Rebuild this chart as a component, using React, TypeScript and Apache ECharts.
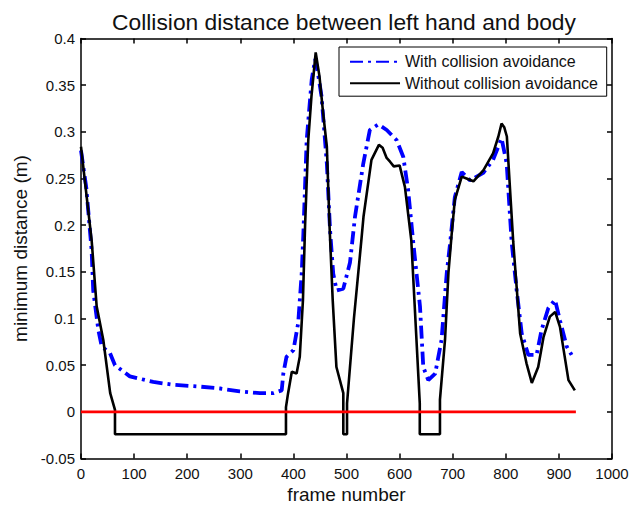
import React, { useEffect, useRef } from "react";
import * as echarts from "echarts";

const titleText = "Collision distance between left hand and body";
const xName = "frame number";
const yName = "minimum distance (m)";
const seriesNames = ["With collision avoidance", "Without collision avoidance"];

const frameWith = [0, 10, 20, 23, 32.6, 39, 54.6, 64, 92, 136, 174, 224, 262, 299, 337, 362, 378, 381, 387, 400, 409, 415.6, 418.7, 425, 434.5, 441, 447, 453, 463, 469, 475, 481.5, 494, 506.6, 516, 531.6, 544, 560, 575.7, 594.5, 607, 616, 626, 638.4, 644.6, 654, 667, 679, 688.7, 695, 704, 717, 732.6, 757.6, 776, 792, 801.7, 811, 820.5, 830, 842.4, 858, 867.5, 880, 892.7, 902, 914.7, 924];
const distWith = [0.28, 0.24, 0.173, 0.13, 0.088, 0.07, 0.063, 0.05, 0.038, 0.032, 0.029, 0.027, 0.025, 0.022, 0.02, 0.02, 0.023, 0.041, 0.059, 0.066, 0.095, 0.148, 0.19, 0.291, 0.356, 0.378, 0.36, 0.338, 0.266, 0.195, 0.148, 0.13, 0.132, 0.16, 0.209, 0.266, 0.302, 0.308, 0.302, 0.291, 0.273, 0.238, 0.18, 0.113, 0.048, 0.034, 0.041, 0.077, 0.148, 0.18, 0.23, 0.257, 0.248, 0.256, 0.27, 0.293, 0.266, 0.182, 0.13, 0.084, 0.061, 0.061, 0.088, 0.111, 0.12, 0.098, 0.07, 0.061];

const frameWithout = [0, 20, 29.5, 42, 55, 64, 64, 386, 386, 390, 397, 406, 412, 418, 422, 428, 434, 442, 449, 456, 463, 468, 474, 481, 494, 494, 501, 501, 514, 528, 532, 547, 561, 568, 575.6, 582, 589, 600, 610, 622, 638, 638, 676, 676, 685.5, 692, 698, 704, 717, 726, 739, 758, 776, 786, 792, 797, 802, 808, 814, 827, 839, 849, 861, 871, 883, 893, 902, 918, 930];
const distWithout = [0.284, 0.184, 0.113, 0.077, 0.02, 0.002, -0.024, -0.024, 0.005, 0.02, 0.043, 0.041, 0.059, 0.12, 0.2, 0.291, 0.338, 0.385, 0.36, 0.32, 0.284, 0.2, 0.12, 0.048, 0.02, -0.024, -0.024, 0.009, 0.1, 0.184, 0.209, 0.27, 0.286, 0.283, 0.272, 0.268, 0.263, 0.264, 0.241, 0.184, 0.009, -0.024, -0.024, 0.013, 0.077, 0.149, 0.19, 0.227, 0.252, 0.25, 0.247, 0.259, 0.277, 0.295, 0.309, 0.305, 0.295, 0.238, 0.182, 0.084, 0.052, 0.031, 0.048, 0.08, 0.102, 0.107, 0.091, 0.034, 0.023];

const zeroFrames = [0, 932];
const zeroValues = [0, 0];

const xMin = 0, xMax = 1000, xStep = 100;
const yMin = -0.05, yMax = 0.4, yStep = 0.05;

const pairs = (xs: number[], ys: number[]) => xs.map((x, i) => [x, ys[i]]);

const FONT = "Liberation Sans";

export default function App() {
  const ref = useRef<HTMLDivElement>(null);
  useEffect(() => {
    if (!ref.current) return;
    const chart = echarts.init(ref.current, undefined, { renderer: "svg" });
    const axisCommon = {
      axisLine: { show: true, onZero: false, lineStyle: { color: "#000", width: 1.5 } },
      axisTick: { show: true, inside: true, length: 5, lineStyle: { color: "#000", width: 1.5 } },
      splitLine: { show: false },
    };
    chart.setOption({
      animation: false,
      backgroundColor: "#fff",
      textStyle: { fontFamily: FONT },
      title: {
        text: titleText,
        left: 339,
        textAlign: "center",
        top: 5,
        textStyle: { fontFamily: FONT, fontSize: 22.8, fontWeight: "normal", color: "#111" },
      },
      grid: { left: 81, right: 32, top: 38.5, bottom: 47.5, containLabel: false, outerBoundsMode: "none" },
      legend: {
        data: seriesNames,
        orient: "vertical",
        right: 37.3,
        top: 47,
        padding: [6.7, 8.7, 5, 10],
        itemWidth: 50,
        itemHeight: 16,
        itemGap: 5.5,
        borderColor: "#000",
        borderWidth: 1,
        backgroundColor: "#fff",
        itemStyle: { opacity: 0 },
        textStyle: { fontFamily: FONT, fontSize: 16, color: "#111" },
      },
      xAxis: [
        {
          type: "value",
          min: xMin,
          max: xMax,
          interval: xStep,
          position: "bottom",
          name: xName,
          nameLocation: "middle",
          nameGap: 24,
          nameTextStyle: { fontFamily: FONT, fontSize: 19, color: "#111" },
          axisLabel: {
            fontFamily: FONT,
            fontSize: 15,
            color: "#111",
            margin: 7,
            formatter: (v: number) => String(v),
          },
          ...axisCommon,
        },
        {
          type: "value",
          min: xMin,
          max: xMax,
          interval: xStep,
          position: "top",
          axisLabel: { show: false },
          ...axisCommon,
        },
      ],
      yAxis: [
        {
          type: "value",
          min: yMin,
          max: yMax,
          interval: yStep,
          position: "left",
          name: yName,
          nameLocation: "middle",
          nameGap: 47,
          nameTextStyle: { fontFamily: FONT, fontSize: 19, color: "#111" },
          axisLabel: {
            fontFamily: FONT,
            fontSize: 15,
            color: "#111",
            margin: 6,
            formatter: (v: number) => String(Math.round(v * 100) / 100),
          },
          ...axisCommon,
        },
        {
          type: "value",
          min: yMin,
          max: yMax,
          interval: yStep,
          position: "right",
          axisLabel: { show: false },
          ...axisCommon,
        },
      ],
      series: [
        {
          name: seriesNames[0],
          type: "line",
          data: pairs(frameWith, distWith),
          symbol: "none",
          showSymbol: false,
          lineStyle: { color: "#0000ff", width: 3.8, type: [13, 5, 3, 5] },
          itemStyle: { color: "#0000ff" },
          z: 2,
        },
        {
          name: seriesNames[1],
          type: "line",
          data: pairs(frameWithout, distWithout),
          symbol: "none",
          showSymbol: false,
          lineStyle: { color: "#000", width: 2.6 },
          itemStyle: { color: "#000" },
          z: 3,
        },
        {
          name: "zero",
          type: "line",
          data: pairs(zeroFrames, zeroValues),
          symbol: "none",
          showSymbol: false,
          lineStyle: { color: "#ff0000", width: 2.8 },
          itemStyle: { color: "#ff0000" },
          z: 4,
        },
      ],
    });
    return () => chart.dispose();
  }, []);
  return (
    <div
      ref={ref}
      style={{ position: "fixed", left: 0, top: 0, width: 644, height: 506, background: "#fff" }}
    />
  );
}
